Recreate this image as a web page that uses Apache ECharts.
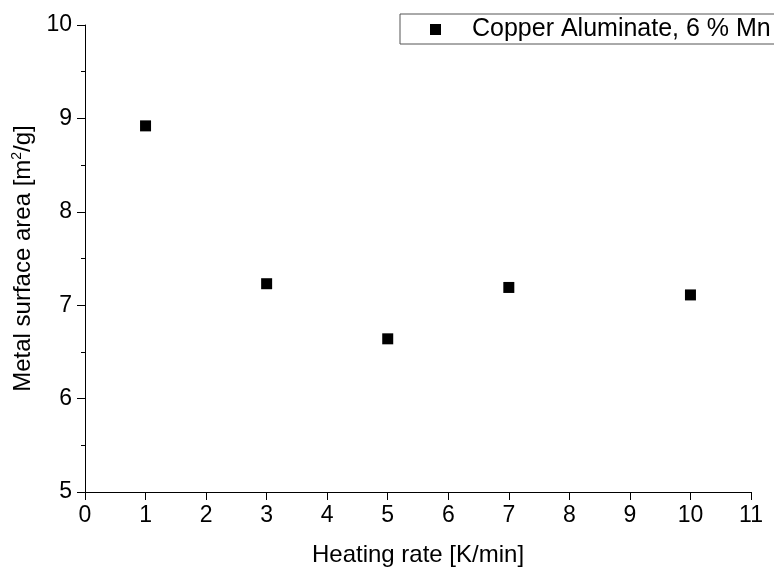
<!DOCTYPE html>
<html><head><meta charset="utf-8">
<script src="https://cdn.jsdelivr.net/npm/echarts@6/dist/echarts.min.js"></script>
<style>html,body{margin:0;padding:0;background:#fff}#c{width:774px;height:572px}</style>
</head><body><div id="c"></div>
<script>
const heatingRate = [1, 3, 5, 7, 10];
const surfaceArea = [8.92, 7.23, 6.64, 7.19, 7.11];
const seriesName = 'Copper Aluminate, 6 % Mn';
const xTitle = 'Heating rate [K/min]';
const yTitle = 'Metal surface area [m{sup|2}/g]';

const font = 'Liberation Sans, Arial, sans-serif';
const chart = echarts.init(document.getElementById('c'));
chart.setOption({
  animation: false,
  backgroundColor: '#fff',
  grid: {left: 85, right: 23, top: 25, bottom: 77},
  legend: {
    left: 400, top: 14, orient: 'horizontal',
    borderColor: '#555', borderWidth: 1, borderRadius: 0,
    padding: [3, 60, 2, 30],
    icon: 'rect', itemWidth: 11, itemHeight: 11,
    textStyle: {fontFamily: font, fontSize: 25, color: '#000', padding: [0, 0, 0, 26]},
    data: [seriesName]
  },
  xAxis: {
    type: 'value', min: 0, max: 11, interval: 1,
    name: xTitle, nameLocation: 'middle', nameGap: 51,
    nameTextStyle: {fontFamily: font, fontSize: 24, color: '#000'},
    axisLine: {show: true, onZero: false, lineStyle: {color: '#000', width: 1}},
    axisTick: {show: true, inside: false, length: 8, lineStyle: {color: '#000'}},
    axisLabel: {fontFamily: font, fontSize: 23, color: '#000', margin: 12},
    splitLine: {show: false}
  },
  yAxis: {
    type: 'value', min: 5, max: 10, interval: 1,
    name: yTitle, nameLocation: 'middle', nameGap: 48, nameRotate: 90,
    nameTextStyle: {fontFamily: font, fontSize: 24, color: '#000',
      rich: {sup: {fontFamily: font, fontSize: 14, color: '#000', verticalAlign: 'top', padding: [0, 0, 12, 0]}}},
    axisLine: {show: true, onZero: false, lineStyle: {color: '#000', width: 1}},
    axisTick: {show: true, inside: false, length: 8, lineStyle: {color: '#000'}},
    minorTick: {show: true, splitNumber: 2, length: 4, lineStyle: {color: '#000'}},
    axisLabel: {fontFamily: font, fontSize: 23, color: '#000', margin: 13},
    splitLine: {show: false}
  },
  series: [{
    name: seriesName, type: 'scatter', symbol: 'rect', symbolSize: 11,
    itemStyle: {color: '#000', opacity: 1},
    data: heatingRate.map((x, i) => [x, surfaceArea[i]])
  }]
});
</script></body></html>
